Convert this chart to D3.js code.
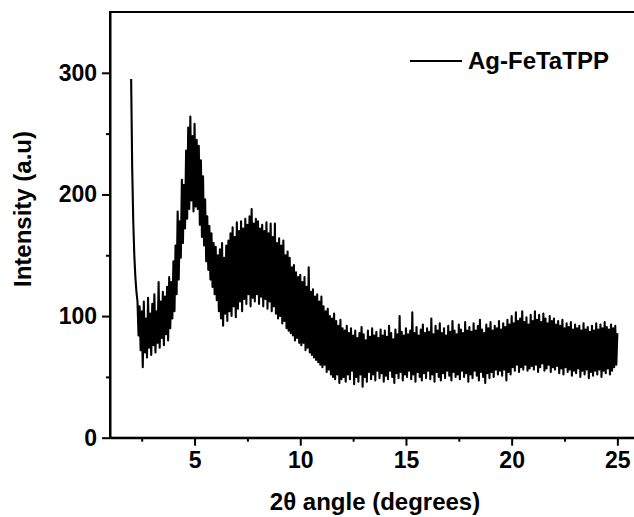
<!DOCTYPE html>
<html>
<head>
<meta charset="utf-8">
<script src="https://cdn.jsdelivr.net/npm/d3@7"></script>
<style>
  body { margin: 0; background: #fff; }
  text { font-family: "Liberation Sans", Arial, sans-serif; font-weight: bold; fill: #000; }
</style>
</head>
<body>
<div id="chart"></div>
<script>
// XRD pattern, one reading every 0.05 degrees starting at 2.0
const twoThetaStart = 2.0;
const twoThetaStep = 0.05;
const intensity = [
  295, 222, 178, 150, 132, 120, 112,
  84, 108, 72, 104, 58, 112, 70, 98, 66, 115, 74, 102, 68,
  110, 76, 118, 70, 104, 78, 128, 74, 112, 82, 120, 76, 116, 85, 124, 80, 132, 90, 128, 98,
  145, 104, 158, 118, 186, 130, 178, 148, 212, 160, 208, 172, 236, 180, 255, 188, 264, 195, 248, 186,
  258, 190, 245, 188, 240, 175, 228, 165, 215, 158, 196, 145, 182, 138, 174, 130, 168, 124, 160, 118,
  157, 113, 150, 104, 155, 98, 160, 92, 148, 102, 158, 96, 162, 104, 168, 100, 173, 108, 165, 99,
  177, 106, 170, 112, 178, 104, 172, 114, 180, 110, 175, 118, 182, 108, 188, 115, 176, 112, 180, 118,
  178, 110, 172, 116, 175, 108, 170, 114, 177, 106, 168, 112, 176, 104, 165, 108, 176, 102, 160, 98,
  164, 100, 158, 94, 162, 96, 150, 90, 153, 88, 148, 86, 140, 84, 142, 80, 136, 82, 132, 78,
  134, 76, 128, 78, 132, 72, 124, 74, 140, 70, 120, 68, 122, 66, 116, 64, 118, 62, 112, 60,
  116, 58, 108, 60, 104, 54, 106, 56, 100, 52, 98, 50, 102, 48, 96, 52, 92, 45, 97, 48,
  90, 50, 88, 46, 92, 52, 86, 48, 90, 55, 84, 44, 88, 50, 82, 46, 86, 52, 91, 42,
  85, 50, 80, 46, 88, 54, 83, 48, 90, 52, 84, 47, 87, 55, 82, 49, 89, 53, 84, 46,
  88, 51, 83, 48, 92, 55, 86, 50, 81, 45, 89, 53, 85, 49, 100, 54, 87, 47, 84, 52,
  90, 50, 85, 55, 88, 48, 103, 52, 86, 46, 91, 54, 84, 50, 89, 47, 93, 53, 86, 49,
  90, 55, 87, 48, 98, 52, 85, 46, 92, 54, 88, 50, 94, 47, 86, 53, 90, 49, 84, 55,
  92, 51, 87, 47, 96, 54, 88, 50, 85, 52, 93, 48, 89, 55, 86, 50, 95, 53, 88, 46,
  91, 52, 87, 49, 94, 55, 88, 51, 92, 47, 97, 54, 89, 50, 86, 45, 93, 53, 90, 49,
  95, 54, 88, 50, 92, 56, 90, 52, 96, 55, 89, 51, 94, 56, 91, 47, 97, 54, 93, 52,
  100, 58, 94, 55, 103, 60, 96, 54, 98, 58, 104, 56, 95, 60, 99, 55, 93, 57, 101, 59,
  96, 56, 104, 60, 97, 54, 101, 58, 95, 61, 102, 55, 98, 57, 94, 60, 100, 54, 96, 58,
  98, 56, 93, 59, 96, 53, 92, 57, 97, 52, 90, 58, 94, 54, 91, 56, 95, 51, 89, 55,
  93, 53, 90, 57, 92, 50, 88, 55, 94, 52, 89, 56, 91, 49, 87, 54, 92, 51, 88, 55,
  94, 52, 89, 56, 93, 50, 90, 55, 95, 53, 91, 57, 89, 52, 93, 55, 90, 58, 92, 60,
  86
];
const seriesName = "Ag-FeTaTPP";
const xTicks = [5, 10, 15, 20, 25];
const xMinorTicks = [2.5, 7.5, 12.5, 17.5, 22.5];
const yTicks = [0, 100, 200, 300];
const yMinorTicks = [50, 150, 250];

const width = 634;
const height = 517;
const margin = { top: 12, left: 110 };
const plotW = 528.5;
const plotH = 425.7;

const points = intensity.map((v, i) => [twoThetaStart + i * twoThetaStep, v]);

const svg = d3.select("#chart")
  .append("svg")
  .attr("width", width)
  .attr("height", height);

const x = d3.scaleLinear().domain([1, 26]).range([margin.left, margin.left + plotW]);
const y = d3.scaleLinear().domain([0, 350]).range([margin.top + plotH, margin.top]);

// the data line
svg.append("path")
  .datum(points)
  .attr("fill", "none")
  .attr("stroke", "#000")
  .attr("stroke-width", 2.1)
  .attr("stroke-linejoin", "round")
  .attr("d", d3.line().x((d) => x(d[0])).y((d) => y(d[1])));

// frame (top and right)
svg.append("rect")
  .attr("x", margin.left)
  .attr("y", margin.top)
  .attr("width", plotW)
  .attr("height", plotH)
  .attr("fill", "none")
  .attr("stroke", "#000")
  .attr("stroke-width", 2);

function styleAxis(g) {
  g.select(".domain").attr("stroke-width", 2);
  g.selectAll(".tick line").attr("stroke-width", 2);
  g.selectAll(".tick text").attr("font-size", 23).attr("font-family", null);
}

svg.append("g")
  .attr("transform", `translate(0,${margin.top + plotH})`)
  .call(d3.axisBottom(x).tickValues(xTicks).tickSize(8).tickSizeOuter(0).tickPadding(6))
  .call(styleAxis);

svg.append("g")
  .attr("transform", `translate(0,${margin.top + plotH})`)
  .call(d3.axisBottom(x).tickValues(xMinorTicks).tickSize(4).tickFormat(""))
  .call((g) => g.select(".domain").remove())
  .call(styleAxis);

svg.append("g")
  .attr("transform", `translate(${margin.left},0)`)
  .call(d3.axisLeft(y).tickValues(yTicks).tickSize(8).tickSizeOuter(0).tickPadding(5))
  .call(styleAxis);

svg.append("g")
  .attr("transform", `translate(${margin.left},0)`)
  .call(d3.axisLeft(y).tickValues(yMinorTicks).tickSize(4).tickFormat(""))
  .call((g) => g.select(".domain").remove())
  .call(styleAxis);

svg.selectAll(".tick text").style("font-weight", "bold").attr("fill", "#000");

// axis titles
svg.append("text")
  .attr("x", 375)
  .attr("y", 510)
  .attr("text-anchor", "middle")
  .attr("font-size", 24)
  .text("2θ angle (degrees)");

svg.append("text")
  .attr("transform", `translate(31,209) rotate(-90)`)
  .attr("text-anchor", "middle")
  .attr("font-size", 24)
  .text("Intensity (a.u)");

// legend
const legend = svg.append("g").attr("transform", "translate(410,61)");
legend.append("line")
  .attr("x1", 0).attr("x2", 52)
  .attr("stroke", "#000")
  .attr("stroke-width", 2);
legend.append("text")
  .attr("x", 58)
  .attr("y", 8)
  .attr("font-size", 24)
  .text(seriesName);
</script>
</body>
</html>
